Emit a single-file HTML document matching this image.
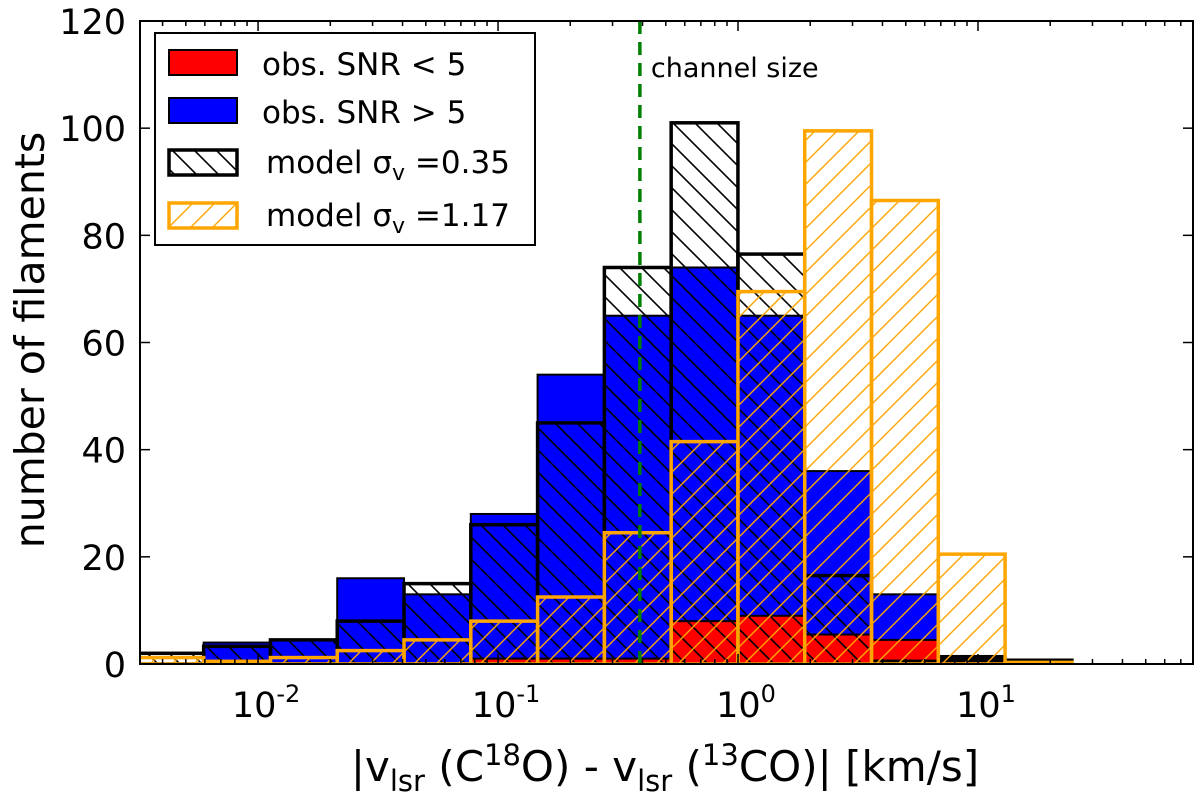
<!DOCTYPE html>
<html><head><meta charset="utf-8"><style>
html,body{margin:0;padding:0;background:#fff;}
svg{display:block;font-family:"DejaVu Sans","Liberation Sans",sans-serif;}
</style></head><body>
<svg id="chart" width="1200" height="795" viewBox="0 0 1200 795" xmlns="http://www.w3.org/2000/svg">
<defs>
<pattern id="hatchBlack" patternUnits="userSpaceOnUse" width="22" height="22">
<path d="M-5,-5 L27,27 M-5,17 L5,27 M17,-5 L27,5" stroke="#000" stroke-width="1.6"/>
</pattern>
<pattern id="hatchOrange" patternUnits="userSpaceOnUse" width="22" height="22">
<path d="M-5,27 L27,-5 M-5,5 L5,-5 M17,27 L27,17" stroke="#ffa500" stroke-width="1.4"/>
</pattern>
<clipPath id="plotClip"><rect x="140" y="21" width="1053" height="643"/></clipPath>
</defs>
<g id="plot" clip-path="url(#plotClip)"></g>
<g id="axes"></g>
</svg>
<script>
const binLogStart = -2.505;
const binLogStep = 0.2783;
const obsTotal = [0, 4, 4.5, 16, 13, 28, 54, 65, 74, 65, 36, 13, 1.5, 0, 0, 0];
const obsLowSNR = [0, 0, 0, 0, 0, 1, 1, 1, 8, 9, 5.5, 4.5, 0.5, 0, 0, 0];
const model035 = [2, 3.3, 4.5, 8, 15, 26, 45, 74, 101, 76.5, 16.5, 0.5, 1, 0.7, 0, 0];
const model117 = [1.2, 0.5, 1.2, 2.5, 4.5, 8, 12.5, 24.5, 41.5, 69.5, 99.5, 86.5, 20.5, 0.3, 0, 0];
const yTicks = [0, 20, 40, 60, 80, 100, 120];
const xTickExps = [-2, -1, 0, 1];
const channelSize = 0.39;

const NS = "http://www.w3.org/2000/svg";
const L = 140, R = 1193, T = 21, B = 664;
const xLogMin = -2.492, xLogMax = 1.896;
function xScale(v){ return L + (Math.log10(v) - xLogMin) / (xLogMax - xLogMin) * (R - L); }
function xLog(lg){ return L + (lg - xLogMin) / (xLogMax - xLogMin) * (R - L); }
function yScale(v){ return B - v / 120 * (B - T); }
function mk(tag, attrs, parent){ const e = document.createElementNS(NS, tag); for (const k in attrs) e.setAttribute(k, attrs[k]); parent.appendChild(e); return e; }
const plot = document.getElementById('plot');
const axes = document.getElementById('axes');
function edges(i){ return [xLog(binLogStart + i*binLogStep), xLog(binLogStart + (i+1)*binLogStep)]; }

obsTotal.forEach((v,i)=>{ if(v<=0) return; const [a,b]=edges(i);
  const r = mk('rect',{x:a,y:yScale(v),width:b-a,height:B-yScale(v),fill:'#0000ff',stroke:'#000','stroke-width':2},plot);
  
  
});
obsLowSNR.forEach((v,i)=>{ if(v<=0) return; const [a,b]=edges(i);
  const r = mk('rect',{x:a,y:yScale(v),width:b-a,height:B-yScale(v),fill:'#ff0000',stroke:'#000','stroke-width':2},plot);
  
  
});
model035.forEach((v,i)=>{ if(v<=0) return; const [a,b]=edges(i);
  const r = mk('rect',{x:a,y:yScale(v),width:b-a,height:B-yScale(v),fill:'url(#hatchBlack)',stroke:'#000','stroke-width':3.5},plot);
  
  
});
model117.forEach((v,i)=>{ if(v<=0) return; const [a,b]=edges(i);
  const r = mk('rect',{x:a,y:yScale(v),width:b-a,height:B-yScale(v),fill:'url(#hatchOrange)',stroke:'#ffa500','stroke-width':3.5},plot);
  
  
});
const cx = xScale(channelSize);
const cl = mk('line',{x1:cx,x2:cx,y1:T,y2:B,stroke:'#008000','stroke-width':3.5,'stroke-dasharray':'13,8'},plot);


const ct = mk('text',{x:cx+11,y:77,'font-size':27,fill:'#000'},axes); ct.textContent='channel size';



const fr = mk('rect',{x:L,y:T,width:R-L,height:B-T,fill:'none',stroke:'#000','stroke-width':2},axes);


yTicks.forEach(v=>{ const y=yScale(v);
  mk('line',{x1:L,x2:L+10,y1:y,y2:y,stroke:'#000','stroke-width':1.5},axes);
  mk('line',{x1:R,x2:R-10,y1:y,y2:y,stroke:'#000','stroke-width':1.5},axes);
  const t = mk('text',{x:126,y:y+13,'font-size':35,'text-anchor':'end',fill:'#000'},axes); t.textContent=v;
  
  
});
for(let e=-3;e<=1;e++){ for(let m=1;m<10;m++){ const v=m*Math.pow(10,e); const lg=Math.log10(v); if(lg<xLogMin||lg>xLogMax) continue; const x=xScale(v); const len=m===1?10:5;
  mk('line',{x1:x,x2:x,y1:B,y2:B-len,stroke:'#000','stroke-width':1.5},axes);
  mk('line',{x1:x,x2:x,y1:T,y2:T+len,stroke:'#000','stroke-width':1.5},axes);
}}
xTickExps.forEach(e=>{ const x=xScale(Math.pow(10,e));
  const t = mk('text',{x:x+8,y:717,'font-size':35,'text-anchor':'middle',fill:'#000'},axes);
  
  
  const s1 = document.createElementNS(NS,'tspan'); s1.textContent='10'; t.appendChild(s1);
  const s2 = document.createElementNS(NS,'tspan'); s2.setAttribute('dy','-15'); s2.setAttribute('font-size','24'); s2.textContent=String(e); t.appendChild(s2);
});
</script>
<svg style="position:absolute;left:0;top:0" width="1200" height="795" xmlns="http://www.w3.org/2000/svg" font-family="DejaVu Sans, Liberation Sans, sans-serif">
<text transform="translate(44,340) rotate(-90)" font-size="41" text-anchor="middle">number of filaments</text>
<text x="665" y="781" font-size="42" text-anchor="middle">|v<tspan font-size="29" dy="10">lsr</tspan><tspan dy="-10"> (C</tspan><tspan font-size="29" dy="-16">18</tspan><tspan dy="16">O) - v</tspan><tspan font-size="29" dy="10">lsr</tspan><tspan dy="-10"> (</tspan><tspan font-size="29" dy="-16">13</tspan><tspan dy="16">CO)| [km/s]</tspan></text>
<g>
<rect x="155" y="33" width="380" height="212" fill="#fff" stroke="#000" stroke-width="2"/>
<g>
<rect x="169" y="50" width="68" height="25" fill="#ff0000" stroke="#000" stroke-width="2"/>
<text x="262" y="75" font-size="31">obs. SNR &lt; 5</text></g>
<g>
<rect x="169" y="98" width="68" height="25" fill="#0000ff" stroke="#000" stroke-width="2"/>
<text x="262" y="123" font-size="31">obs. SNR &gt; 5</text></g>
<g>
<rect x="169" y="150" width="68" height="25" fill="url(#hatchBlack)" stroke="#000" stroke-width="3.5"/>
<text x="266" y="173" font-size="31">model σ<tspan font-size="22" dy="7">v</tspan><tspan dy="-7"> =0.35</tspan></text></g>
<g>
<rect x="169" y="203" width="68" height="25" fill="url(#hatchOrange)" stroke="#ffa500" stroke-width="3.5"/>
<text x="266" y="226" font-size="31">model σ<tspan font-size="22" dy="7">v</tspan><tspan dy="-7"> =1.17</tspan></text></g>
</g>
</svg>
</body></html>
